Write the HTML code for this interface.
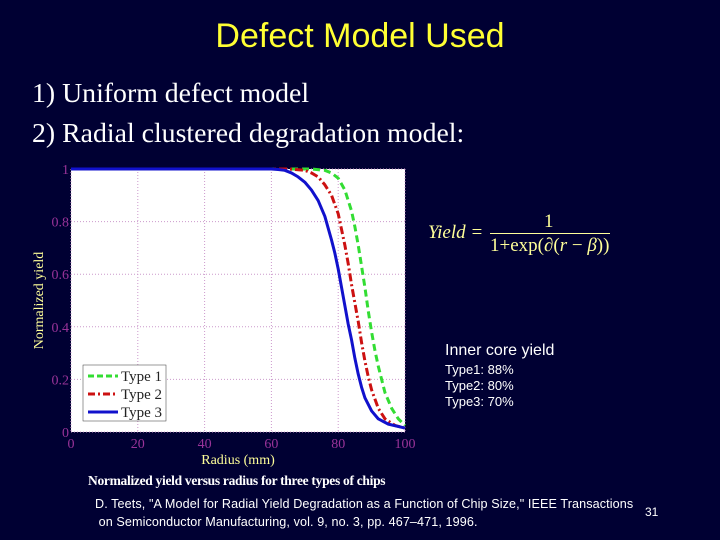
<!DOCTYPE html>
<html><head><meta charset="utf-8"><style>
body{margin:0;width:720px;height:540px;background:#000033;overflow:hidden;position:relative}
.t{position:absolute;white-space:nowrap;margin:0}
</style></head><body>
<div class="t" style="left:0;width:720px;text-align:center;top:17px;font:34px 'Liberation Sans',sans-serif;color:#ffff33">Defect Model Used</div>
<div class="t" style="left:32px;top:78px;font:27.8px 'Liberation Serif',serif;color:#fff">1) Uniform defect model</div>
<div class="t" style="left:32px;top:118px;font:27.8px 'Liberation Serif',serif;color:#fff">2) Radial clustered degradation model:</div>
<svg id="chart" width="720" height="540" style="position:absolute;left:0;top:0"></svg>
<div class="t" style="left:428px;top:210px;font:19px 'Liberation Serif',serif;color:#ffff99">
<span style="position:absolute;top:12px;font-style:italic">Yield =</span>
<span style="position:absolute;left:116px;top:1px">1</span>
<span style="position:absolute;left:62px;top:23px;width:120px;border-top:1px solid #ffff99"></span>
<span style="position:absolute;left:62px;top:25px">1+exp(∂(<i>r</i> − <i>β</i>))</span></div>
<div class="t" style="left:445px;top:342px;font:16px 'Liberation Sans',sans-serif;color:#fff">Inner core yield</div>
<div class="t" style="left:445px;top:362px;font:13px/16px 'Liberation Sans',sans-serif;color:#fff">Type1: 88%<br>Type2: 80%<br>Type3: 70%</div>
<div class="t" style="left:88px;top:473px;font:bold 13.5px 'Liberation Serif',serif;color:#fff;letter-spacing:-0.3px">Normalized yield versus radius for three types of chips</div>
<div class="t" style="left:95px;top:495px;font:12.6px/18px 'Liberation Sans',sans-serif;color:#fff;letter-spacing:0.1px">D. Teets, "A Model for Radial Yield Degradation as a Function of Chip Size," IEEE Transactions<br>&nbsp;on Semiconductor Manufacturing, vol. 9, no. 3, pp. 467–471, 1996.</div>
<div class="t" style="left:645px;top:505px;font:12px 'Liberation Sans',sans-serif;color:#fff">31</div>
<script>
const xTicks=[0,20,40,60,80,100];
const yTicks=[0,0.2,0.4,0.6,0.8,1];
const yTickLabels=["0","0.2","0.4","0.6","0.8","1"];
const type1X=[0,72,76,78,80,82,84,85,86,87,88,89,90,91,92,93,94,96,98,100];
const type1Y=[1,1,0.995,0.985,0.965,0.92,0.84,0.78,0.71,0.63,0.55,0.46,0.38,0.31,0.25,0.2,0.15,0.09,0.05,0.025];
const type2X=[0,65,70,72,74,76,78,80,81,82,83,84,85,86,87,88,89,90,92,94,97,100];
const type2Y=[1,1,0.995,0.985,0.97,0.94,0.9,0.83,0.77,0.71,0.64,0.56,0.49,0.42,0.34,0.27,0.21,0.16,0.09,0.05,0.025,0.015];
const type3X=[0,60,62,64,66,68,70,72,74,76,78,79,80,81,82,83,84,85,86,87,88,90,92,95,100];
const type3Y=[1,1,0.998,0.995,0.985,0.97,0.95,0.92,0.88,0.82,0.73,0.68,0.62,0.55,0.48,0.41,0.35,0.28,0.22,0.17,0.13,0.08,0.05,0.03,0.015];
const NS="http://www.w3.org/2000/svg",svg=document.getElementById('chart');
const X0=71,X1=405,Y0=432,Y1=169;
const sx=v=>X0+(v/100)*(X1-X0), sy=v=>Y0-v*(Y0-Y1);
function mk(t,a,p){const e=document.createElementNS(NS,t);for(const k in a)e.setAttribute(k,a[k]);(p||svg).appendChild(e);return e;}
const bg=mk('rect',{x:X0,y:Y1,width:X1-X0,height:Y0-Y1,fill:'#fff'});


xTicks.forEach(v=>{
 const g=mk('line',{x1:sx(v),x2:sx(v),y1:Y1,y2:Y0,stroke:'#cc99cc','stroke-dasharray':'1,2'});
 
 
 const t=mk('text',{x:sx(v),y:Y0+16,'text-anchor':'middle',fill:'#993399','font-size':'14','font-family':'Liberation Serif, serif'});
 t.textContent=v;
 
 
});
yTicks.forEach((v,i)=>{
 const g=mk('line',{x1:X0,x2:X1,y1:sy(v),y2:sy(v),stroke:'#cc99cc','stroke-dasharray':'1,2'});
 
 
 const t=mk('text',{x:X0-2,y:sy(v)+5,'text-anchor':'end',fill:'#993399','font-size':'14','font-family':'Liberation Serif, serif'});
 t.textContent=yTickLabels[i];
 
 
});
const xl=mk('text',{x:(X0+X1)/2,y:Y0+32,'text-anchor':'middle',fill:'#ffff99','font-size':'14','font-family':'Liberation Serif, serif'});
xl.textContent='Radius (mm)';


const yl=mk('text',{x:0,y:0,transform:`translate(43,${(Y0+Y1)/2}) rotate(-90)`,'text-anchor':'middle',fill:'#ffff99','font-size':'14','font-family':'Liberation Serif, serif'});
yl.textContent='Normalized yield';


function series(xs,ys,col,dash,name){
 const p=mk('polyline',{points:xs.map((x,i)=>sx(x)+','+sy(ys[i])).join(' '),fill:'none',stroke:col,'stroke-width':3,'stroke-dasharray':dash,'stroke-linejoin':'round'});
 
 
}
series(type1X,type1Y,'#33dd33','7,4','type1-line');
series(type2X,type2Y,'#cc1111','8,3,2,3','type2-line');
series(type3X,type3Y,'#1111cc','none','type3-line');
const lg=mk('g',{});


mk('rect',{x:83,y:365,width:83,height:56,fill:'#fff',stroke:'#333','stroke-width':0.5},lg);
[['Type 1','#33dd33','6,3'],['Type 2','#cc1111','7,3,2,3'],['Type 3','#1111cc','none']].forEach((d,i)=>{
 const y=376+i*18;
 const l=mk('line',{x1:88,x2:118,y1:y,y2:y,stroke:d[1],'stroke-width':3,'stroke-dasharray':d[2]},lg);
 
 
 const t=mk('text',{x:121,y:y+5,fill:'#222','font-size':'15','font-family':'Liberation Serif, serif'},lg);
 t.textContent=d[0];
 
 
});
</script>
</body></html>
